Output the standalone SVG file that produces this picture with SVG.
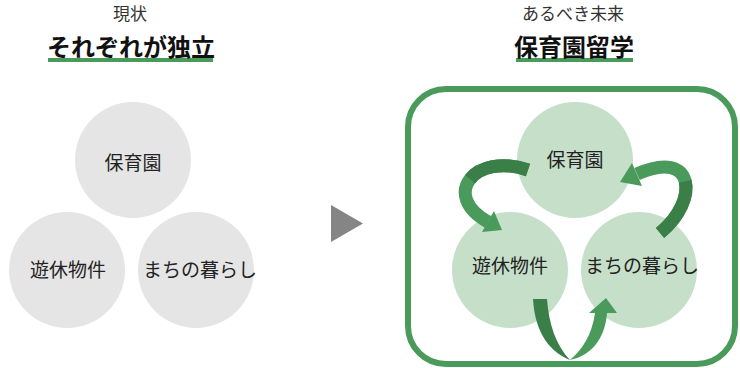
<svg xmlns="http://www.w3.org/2000/svg" width="740" height="368" viewBox="0 0 740 368">
<style>
.cap{font-family:"Noto Sans CJK JP","Noto Sans",sans-serif;font-size:17px;fill:#333;text-anchor:middle}
.ttl{font-family:"Noto Sans CJK JP","Noto Sans",sans-serif;font-size:24px;font-weight:bold;fill:#111;text-anchor:middle}
.lbl{font-family:"Noto Sans CJK JP","Noto Sans",sans-serif;font-size:19px;fill:#222;text-anchor:middle}
.grey{fill:#e5e5e5}
.green{fill:#c6dfc9}
.ul{fill:#4a9b5b}
.dark{fill:none;stroke:#3a7f48;stroke-width:13}
.light{fill:none;stroke:#4a9b5b;stroke-width:13}
.dk{fill:#3a7f48}
.lt{fill:#4a9b5b}
</style>
<rect width="740" height="368" fill="#ffffff"/>

<g id="title-left">
<text class="cap" x="130" y="20">現状</text>
<rect class="ul" x="48" y="58" width="165" height="4"/>
<text class="ttl" x="131" y="56">それぞれが独立</text>
</g>
<g id="title-right">
<text class="cap" x="573" y="20">あるべき未来</text>
<rect class="ul" x="516" y="58" width="117" height="4"/>
<text class="ttl" x="574" y="56">保育園留学</text>
</g>

<g id="left-hoikuen"><circle class="grey" cx="133" cy="160" r="58"/><text class="lbl" x="133" y="170">保育園</text></g>
<g id="left-yukyu"><circle class="grey" cx="67" cy="270" r="58"/><text class="lbl" x="68" y="277">遊休物件</text></g>
<g id="left-machi"><circle class="grey" cx="196" cy="270" r="58"/><text class="lbl" x="200" y="277">まちの暮らし</text></g>

<g id="triangle"><polygon points="331,205 363,223.5 331,242" fill="#858585"/></g>

<g id="frame"><rect x="408" y="89" width="327" height="275" rx="38" fill="none" stroke="#4a9b5b" stroke-width="6"/></g>

<g id="right-hoikuen"><circle class="green" cx="575" cy="160" r="58"/><text class="lbl" x="575" y="167">保育園</text></g>
<g id="right-yukyu"><circle class="green" cx="510" cy="270" r="58"/><text class="lbl" x="510" y="273">遊休物件</text></g>
<g id="right-machi"><circle class="green" cx="639" cy="270" r="58"/><text class="lbl" x="642" y="273">まちの暮らし</text></g>

<g id="connectors">
<path class="light" d="M528,170 C475,152 440,195 488,222"/>
<path class="dark" d="M528,170 C501.5,161 479.5,167.25 470.1,179.1"/>
<polygon class="lt" points="494,211 502,230 482,232"/>
<path class="light" d="M660,233 C700,200 695,148 637,174"/>
<path class="dark" d="M660,233 C680,216.5 688.75,195.25 685.25,181.4"/>
<polygon class="lt" points="632,163 620,182 642,186"/>
<path class="dk" d="M533,299 L547,299 C549,325 556,345 570,360 C552,353 535,335 533,299 Z"/>
<path class="lt" d="M570,360 C582,350 592,335 595,313 L589,313 L606,298 L617,313 L607,313 C605,340 590,356 570,360 Z"/>
</g>
</svg>
